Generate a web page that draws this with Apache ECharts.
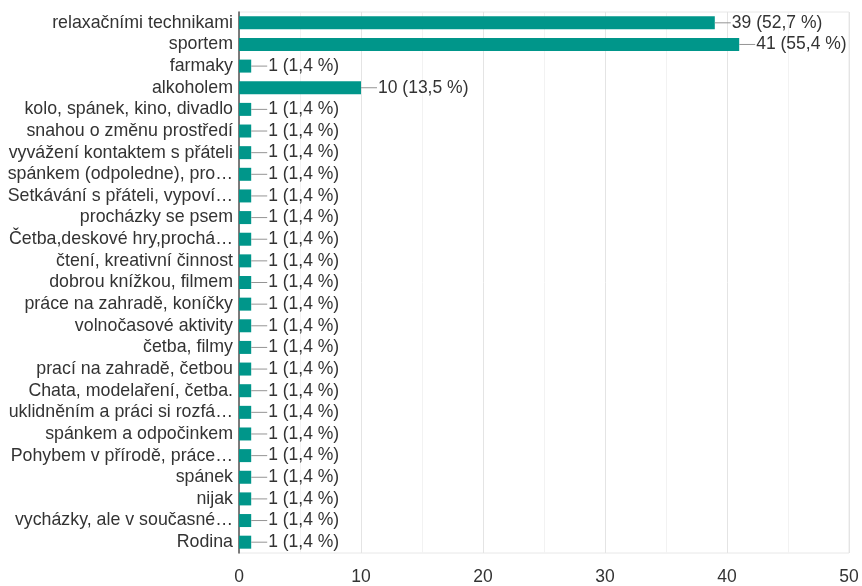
<!DOCTYPE html>
<html>
<head>
<meta charset="utf-8">
<script src="https://cdn.jsdelivr.net/npm/echarts@6/dist/echarts.min.js"></script>
<style>
  html, body { margin: 0; padding: 0; background: #fff; }
  #chart { width: 862px; height: 586px; }
</style>
</head>
<body>
<div id="chart"></div>
<script>
// Answers (top to bottom) and number of respondents for each
const categories = [
  'relaxačními technikami',
  'sportem',
  'farmaky',
  'alkoholem',
  'kolo, spánek, kino, divadlo',
  'snahou o změnu prostředí',
  'vyvážení kontaktem s přáteli',
  'spánkem (odpoledne), pro…',
  'Setkávání s přáteli, vypoví…',
  'procházky se psem',
  'Četba,deskové hry,prochá…',
  'čtení, kreativní činnost',
  'dobrou knížkou, filmem',
  'práce na zahradě, koníčky',
  'volnočasové aktivity',
  'četba, filmy',
  'prací na zahradě, četbou',
  'Chata, modelaření, četba.',
  'uklidněním a práci si rozfá…',
  'spánkem a odpočinkem',
  'Pohybem v přírodě, práce…',
  'spánek',
  'nijak',
  'vycházky, ale v současné…',
  'Rodina'
];
const counts = [39, 41, 1, 10, 1, 1, 1, 1, 1, 1, 1, 1, 1, 1, 1, 1, 1, 1, 1, 1, 1, 1, 1, 1, 1];
const totalRespondents = 74;
const xTicks = [0, 10, 20, 30, 40, 50];

const FONT = '"Liberation Sans", Arial, sans-serif';
const TEXT = '#333333';

function pct(v) {
  return (v / totalRespondents * 100).toFixed(1).replace('.', ',');
}

const chart = echarts.init(document.getElementById('chart'));
chart.setOption({
  animation: false,
  backgroundColor: '#ffffff',
  grid: {
    left: 239, right: 13, top: 12, bottom: 28,
    show: true, borderColor: '#e8e8e8', borderWidth: 1
  },
  xAxis: {
    type: 'value',
    min: xTicks[0],
    max: xTicks[xTicks.length - 1],
    interval: 10,
    axisLine: { show: false },
    axisTick: { show: false },
    axisLabel: { color: TEXT, fontFamily: FONT, fontSize: 17.5, margin: 15 },
    splitLine: { show: true, lineStyle: { color: '#e4e4e4', width: 1 } },
    minorTick: { show: false, splitNumber: 2 },
    minorSplitLine: { show: true, lineStyle: { color: '#f2f2f2', width: 1 } }
  },
  yAxis: {
    type: 'category',
    data: categories,
    inverse: true,
    axisLine: { show: true, lineStyle: { color: '#555555', width: 1.5 } },
    axisTick: { show: false },
    axisLabel: {
      interval: 0, color: TEXT, fontFamily: FONT, fontSize: 17.8, margin: 6
    },
    splitLine: { show: false }
  },
  series: [{
    type: 'bar',
    data: counts,
    barWidth: 13,
    itemStyle: { color: '#00968a' },
    label: {
      show: true,
      position: 'right',
      distance: 0,
      formatter: p => '{l|}{t|' + p.value + ' (' + pct(p.value) + ' %)}',
      rich: {
        l: { width: 16, height: 1, backgroundColor: '#949494' },
        t: { color: TEXT, fontFamily: FONT, fontSize: 17.5, padding: [0, 0, 0, 1] }
      }
    }
  }]
});
</script>
</body>
</html>
